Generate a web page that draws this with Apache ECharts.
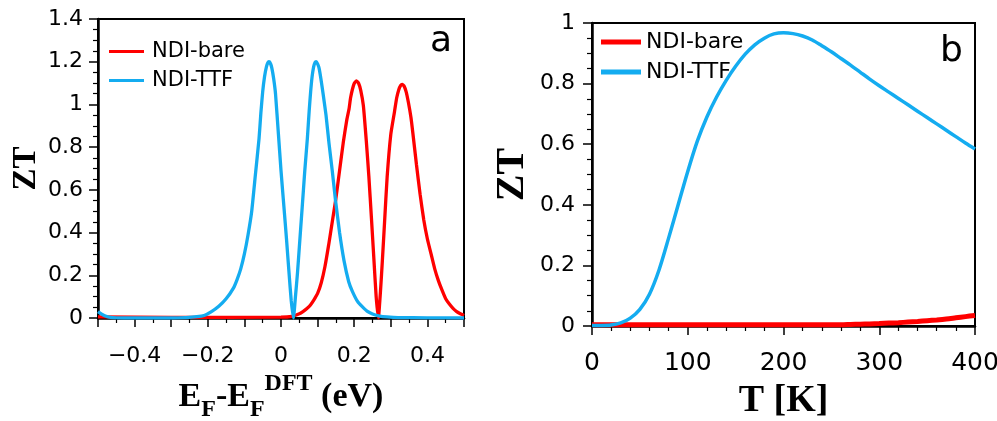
<!DOCTYPE html>
<html>
<head>
<meta charset="utf-8">
<script src="https://cdn.jsdelivr.net/npm/echarts@6/dist/echarts.min.js"></script>
<style>
html,body{margin:0;padding:0;background:#fff;}
#chart{width:997px;height:421px;}
</style>
</head>
<body>
<div id="chart"></div>
<script>
// ---- Panel a data: ZT vs E_F - E_F^DFT (eV) ----
const seriesNames = ['NDI-bare', 'NDI-TTF'];
const aBareX = [-0.5,-0.3,0,0.03,0.05,0.06,0.07,0.08,0.09,0.1,0.11,0.12,0.13,0.14,0.15,0.16,0.17,0.18,0.186,0.19,0.195,0.2,0.206,0.212,0.218,0.225,0.233,0.24,0.247,0.254,0.26,0.266,0.272,0.277,0.283,0.29,0.3,0.31,0.316,0.322,0.327,0.331,0.336,0.342,0.348,0.355,0.36,0.37,0.38,0.39,0.4,0.41,0.42,0.43,0.44,0.45,0.46,0.47,0.48,0.49,0.5];
const aBareZT = [0.005,0.003,0.004,0.008,0.02,0.03,0.043,0.06,0.085,0.115,0.165,0.24,0.34,0.45,0.56,0.69,0.82,0.93,0.98,1.03,1.07,1.098,1.11,1.099,1.065,0.995,0.83,0.664,0.47,0.27,0.1,0.0,0.13,0.27,0.45,0.66,0.86,0.965,1.03,1.07,1.089,1.094,1.087,1.059,1.01,0.94,0.87,0.72,0.58,0.46,0.37,0.30,0.23,0.175,0.13,0.09,0.065,0.045,0.03,0.02,0.012];
const aTtfX = [-0.5,-0.49,-0.48,-0.47,-0.45,-0.4,-0.3,-0.26,-0.23,-0.21,-0.19,-0.17,-0.15,-0.13,-0.12,-0.11,-0.1,-0.09,-0.08,-0.07,-0.06,-0.055,-0.05,-0.045,-0.04,-0.036,-0.033,-0.029,-0.025,-0.02,-0.015,-0.007,0,0.008,0.015,0.022,0.028,0.034,0.04,0.045,0.05,0.058,0.065,0.072,0.077,0.081,0.085,0.089,0.093,0.096,0.1,0.104,0.109,0.115,0.123,0.131,0.14,0.149,0.16,0.172,0.185,0.195,0.21,0.222,0.235,0.25,0.27,0.29,0.32,0.4,0.5];
const aTtfZT = [0.03,0.018,0.009,0.004,0.001,0,0,0.002,0.006,0.012,0.03,0.055,0.09,0.14,0.18,0.23,0.30,0.39,0.50,0.67,0.84,0.96,1.06,1.13,1.175,1.195,1.20,1.193,1.17,1.12,1.05,0.86,0.69,0.52,0.37,0.21,0.08,0.0,0.11,0.21,0.33,0.52,0.69,0.84,0.97,1.06,1.13,1.175,1.197,1.20,1.19,1.17,1.12,1.05,0.95,0.82,0.69,0.55,0.40,0.27,0.17,0.125,0.075,0.053,0.032,0.019,0.009,0.005,0.002,0.001,0];

// ---- Panel b data: ZT vs T [K] ----
const bT = [0,10,20,30,40,50,60,70,80,90,100,110,120,130,140,150,160,170,180,190,200,210,220,230,240,250,260,270,280,290,300,310,320,330,340,350,360,370,380,390,400];
const bBareZT = [0.004,0.004,0.004,0.004,0.004,0.004,0.004,0.004,0.004,0.004,0.004,0.004,0.004,0.004,0.004,0.004,0.004,0.004,0.004,0.004,0.004,0.004,0.004,0.004,0.004,0.004,0.004,0.005,0.006,0.007,0.008,0.0095,0.011,0.013,0.015,0.0175,0.02,0.023,0.027,0.031,0.035];
const bTtfZT = [0.002,0.002,0.003,0.01,0.026,0.055,0.105,0.185,0.29,0.40,0.51,0.61,0.69,0.755,0.81,0.857,0.897,0.928,0.95,0.964,0.968,0.965,0.957,0.944,0.925,0.905,0.883,0.861,0.838,0.815,0.793,0.772,0.751,0.73,0.709,0.688,0.667,0.646,0.625,0.604,0.584];

const RED = '#ff0000';
const BLUE = '#14acf0';
const SANS = 'DejaVu Sans';
const SERIF = 'Liberation Serif';

function pairs(xs, ys) { return xs.map((x, i) => [x, ys[i]]); }

const chart = echarts.init(document.getElementById('chart'), null, {renderer: 'canvas'});

function yAxis(gridIndex, max, nameSize, nameGap, labelMargin) {
  return {
    type: 'value', gridIndex, min: 0, max, interval: 0.2,
    name: 'ZT', nameLocation: 'middle', nameRotate: 90, nameGap,
    nameTextStyle: {fontFamily: SERIF, fontWeight: 'bold', fontSize: nameSize, lineHeight: nameSize, color: '#000'},
    axisLine: {show: true, onZero: false, lineStyle: {color: '#000', width: 2.5}},
    axisTick: {show: true, inside: false, length: 9, lineStyle: {color: '#000', width: 1.5}},
    minorTick: {show: true, splitNumber: 4, length: 5, lineStyle: {color: '#000', width: 1.2}},
    axisLabel: {fontFamily: SANS, fontSize: 22, color: '#000', margin: labelMargin},
    splitLine: {show: false}, minorSplitLine: {show: false}
  };
}

const option = {
  backgroundColor: '#fff',
  animation: false,
  grid: [
    {left: 98, top: 19, width: 366, height: 299, outerBoundsMode: 'none', containLabel: false,
     show: true, borderColor: '#000', borderWidth: 2, backgroundColor: 'transparent'},
    {left: 592, top: 23, width: 383, height: 303, outerBoundsMode: 'none', containLabel: false,
     show: true, borderColor: '#000', borderWidth: 2, backgroundColor: 'transparent'}
  ],
  xAxis: [
    {
      type: 'value', gridIndex: 0, min: -0.5, max: 0.5, interval: 0.1,
      name: '{m|E}{s|F}{m|-E}{s|F}{p|DFT}{m| (eV)}',
      nameLocation: 'middle', nameGap: 46,
      nameTextStyle: {
        color: '#000',
        rich: {
          m: {fontFamily: SERIF, fontWeight: 'bold', fontSize: 34, lineHeight: 50, color: '#000'},
          s: {fontFamily: SERIF, fontWeight: 'bold', fontSize: 24, lineHeight: 34, verticalAlign: 'bottom', color: '#000'},
          p: {fontFamily: SERIF, fontWeight: 'bold', fontSize: 24, lineHeight: 34, verticalAlign: 'top', color: '#000'}
        }
      },
      axisLine: {show: true, onZero: false, lineStyle: {color: '#000', width: 2.5}},
      axisTick: {show: true, inside: false, length: 9, lineStyle: {color: '#000', width: 1.5}},
      minorTick: {show: true, splitNumber: 2, length: 5, lineStyle: {color: '#000', width: 1.2}},
      axisLabel: {
        fontFamily: SANS, fontSize: 22, color: '#000', margin: 27,
        showMinLabel: true, showMaxLabel: true,
        formatter: function (v) {
          const k = Math.round(v * 10);
          if (k % 2 !== 0) return '';
          if (k === 0) return '0';
          return (k < 0 ? '\u2212' : '') + (Math.abs(k) / 10).toString();
        }
      },
      splitLine: {show: false}, minorSplitLine: {show: false}
    },
    {
      type: 'value', gridIndex: 1, min: 0, max: 400, interval: 100,
      name: 'T [K]', nameLocation: 'middle', nameGap: 56,
      nameTextStyle: {fontFamily: SERIF, fontWeight: 'bold', fontSize: 38, lineHeight: 38, color: '#000'},
      axisLine: {show: true, onZero: false, lineStyle: {color: '#000', width: 2.5}},
      axisTick: {show: true, inside: false, length: 9, lineStyle: {color: '#000', width: 1.5}},
      minorTick: {show: true, splitNumber: 5, length: 5, lineStyle: {color: '#000', width: 1.2}},
      axisLabel: {fontFamily: SANS, fontSize: 25, color: '#000', margin: 25, showMaxLabel: true},
      splitLine: {show: false}, minorSplitLine: {show: false}
    }
  ],
  yAxis: [
    yAxis(0, 1.4, 33, 55, 15),
    yAxis(1, 1.0, 40, 59, 17)
  ],
  legend: [
    {
      data: seriesNames, orient: 'vertical', left: 104, top: 36,
      icon: 'rect', itemWidth: 35, itemHeight: 3, itemGap: 8,
      textStyle: {fontFamily: SANS, fontSize: 21, color: '#000', padding: [0, 0, 0, 3]},
      selectedMode: false
    },
    {
      data: seriesNames, orient: 'vertical', left: 596, top: 26,
      icon: 'rect', itemWidth: 40, itemHeight: 5, itemGap: 8,
      textStyle: {fontFamily: SANS, fontSize: 22, color: '#000', padding: 0},
      selectedMode: false
    }
  ],
  series: [
    {name: seriesNames[0], type: 'line', xAxisIndex: 0, yAxisIndex: 0, data: pairs(aBareX, aBareZT),
     showSymbol: false, smooth: 0.15, color: RED, lineStyle: {color: RED, width: 3.3}},
    {name: seriesNames[1], type: 'line', xAxisIndex: 0, yAxisIndex: 0, data: pairs(aTtfX, aTtfZT),
     showSymbol: false, smooth: 0.15, color: BLUE, lineStyle: {color: BLUE, width: 3.3}},
    {name: seriesNames[0], type: 'line', xAxisIndex: 1, yAxisIndex: 1, data: pairs(bT, bBareZT),
     showSymbol: false, smooth: 0.3, color: RED, lineStyle: {color: RED, width: 5}},
    {name: seriesNames[1], type: 'line', xAxisIndex: 1, yAxisIndex: 1, data: pairs(bT, bTtfZT),
     showSymbol: false, smooth: 0.3, color: BLUE, lineStyle: {color: BLUE, width: 3.5}}
  ],
  graphic: [
    {type: 'text', left: 430, top: 24, style: {text: 'a', fontFamily: SANS, fontSize: 36, fill: '#000'}},
    {type: 'text', left: 940, top: 34, style: {text: 'b', fontFamily: SANS, fontSize: 36, fill: '#000'}}
  ]
};
chart.setOption(option);
</script>
</body>
</html>
